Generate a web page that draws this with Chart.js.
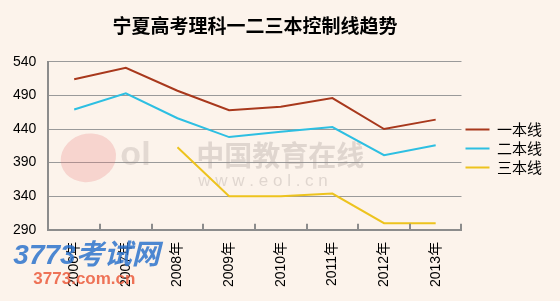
<!DOCTYPE html>
<html>
<head>
<meta charset="utf-8">
<script src="https://cdn.jsdelivr.net/npm/chart.js@4.4.0/dist/chart.umd.min.js"></script>
<style>
  html, body { margin: 0; padding: 0; background: #FCF3EB; }
  #box { width: 560px; height: 301px; }
</style>
</head>
<body>
<div id="box"><canvas id="trend"></canvas></div>
<script>
// data
var years = ["2006年", "2007年", "2008年", "2009年", "2010年", "2011年", "2012年", "2013年"];
var line1 = [514, 531, 497, 468, 473, 486, 440, 454];
var line2 = [469, 493, 456, 428, 436, 443, 401, 416];
var line3 = [null, null, 413, 340, 340, 344, 300, 300];
var yTicks = [290, 340, 390, 440, 490, 540];

var font = "'Liberation Sans', 'Noto Sans CJK SC', sans-serif";
var cjk = "'Noto Sans CJK SC', sans-serif";

// small tick marks pointing up into the plot, between the categories
var innerTicks = {
    id: "innerTicks",
    afterDraw: function(chart) {
        var x = chart.scales.x, ctx = chart.ctx;
        var half = (x.getPixelForValue(1) - x.getPixelForValue(0)) / 2;
        ctx.save();
        ctx.strokeStyle = "#8c8c8c";
        ctx.lineWidth = 2;
        for (var i = 0; i <= years.length; i++) {
            var px = Math.round(x.getPixelForValue(i) - half);
            ctx.beginPath();
            ctx.moveTo(px, x.top);
            ctx.lineTo(px, x.top - 6);
            ctx.stroke();
        }
        ctx.restore();
    }
};

// the site watermarks of the original picture
var watermarks = {
    id: "watermarks",
    beforeDatasetsDraw: function(chart) {
        var ctx = chart.ctx, a = chart.chartArea;
        ctx.save();
        ctx.fillStyle = "rgba(150,140,135,0.28)";
        ctx.font = "bold 28px " + cjk;
        ctx.textBaseline = "middle";
        ctx.fillText("中国教育在线", a.left + 148, a.top + 94);
        ctx.font = "17px " + font;
        ctx.fillText("w w w . e o l . c n", a.left + 150, a.top + 120);
        // eol mark
        ctx.fillStyle = "rgba(230,120,120,0.25)";
        ctx.beginPath();
        ctx.ellipse(a.left + 40, a.top + 96, 28, 24, -0.3, 0, Math.PI * 2);
        ctx.fill();
        ctx.fillStyle = "rgba(150,140,135,0.25)";
        ctx.font = "bold 34px " + font;
        ctx.fillText("ol", a.left + 72, a.top + 94);
        ctx.restore();
    },
    afterDraw: function(chart) {
        var ctx = chart.ctx, a = chart.chartArea;
        ctx.save();
        ctx.textBaseline = "middle";
        ctx.fillStyle = "rgba(45,115,205,0.85)";
        ctx.font = "italic bold 28px " + font;
        ctx.fillText("3773考试网", a.left - 35, a.bottom + 26);
        ctx.fillStyle = "rgba(235,90,60,0.85)";
        ctx.font = "bold 17px " + font;
        ctx.fillText("3773.com.cn", a.left - 15, a.bottom + 49);
        ctx.restore();
    }
};

new Chart("trend", {
    type: "line",
    data: {
        labels: years,
        datasets: [{
                label: "一本线",
                data: line1,
                borderColor: "#A8381C",
                backgroundColor: "#A8381C"
            },
            {
                label: "二本线",
                data: line2,
                borderColor: "#2DBFE2",
                backgroundColor: "#2DBFE2"
            },
            {
                label: "三本线",
                data: line3,
                borderColor: "#EDC31E",
                backgroundColor: "#EDC31E"
            }
        ]
    },
    options: {
        responsive: true,
        maintainAspectRatio: false,
        animation: false,
        elements: {
            line: { borderWidth: 2, tension: 0 },
            point: { radius: 0 }
        },
        layout: { padding: { top: 6, right: 8, bottom: 10, left: 1 } },
        plugins: {
            title: {
                display: true,
                text: "宁夏高考理科一二三本控制线趋势",
                color: "#000",
                fullSize: false,
                font: { family: cjk, size: 19, weight: "bold" },
                padding: { top: 8, bottom: 25 }
            },
            legend: {
                position: "right",
                labels: {
                    boxWidth: 24,
                    boxHeight: 2,
                    padding: 4,
                    color: "#000",
                    font: { family: cjk, size: 15 },
                    generateLabels: function(chart) {
                        var items = Chart.defaults.plugins.legend.labels.generateLabels(chart);
                        items.forEach(function(it) { it.lineWidth = 0; });
                        return items;
                    }
                }
            },
            tooltip: { enabled: false }
        },
        scales: {
            x: {
                offset: true,
                grid: { display: false, offset: true },
                border: { color: "#8c8c8c", width: 2 },
                ticks: {
                    autoSkip: false,
                    minRotation: 90,
                    maxRotation: 90,
                    color: "#000",
                    padding: 4,
                    font: { family: font, size: 14 }
                }
            },
            y: {
                min: 290,
                max: 540,
                afterBuildTicks: function(scale) {
                    scale.ticks = yTicks.map(function(v) { return { value: v }; });
                },
                grid: { color: "#9a9a9a", lineWidth: 1, drawTicks: false },
                border: { color: "#8c8c8c", width: 2 },
                ticks: {
                    color: "#000",
                    padding: 12,
                    font: { family: font, size: 14 }
                }
            }
        }
    },
    plugins: [innerTicks, watermarks]
});
</script>
</body>
</html>
